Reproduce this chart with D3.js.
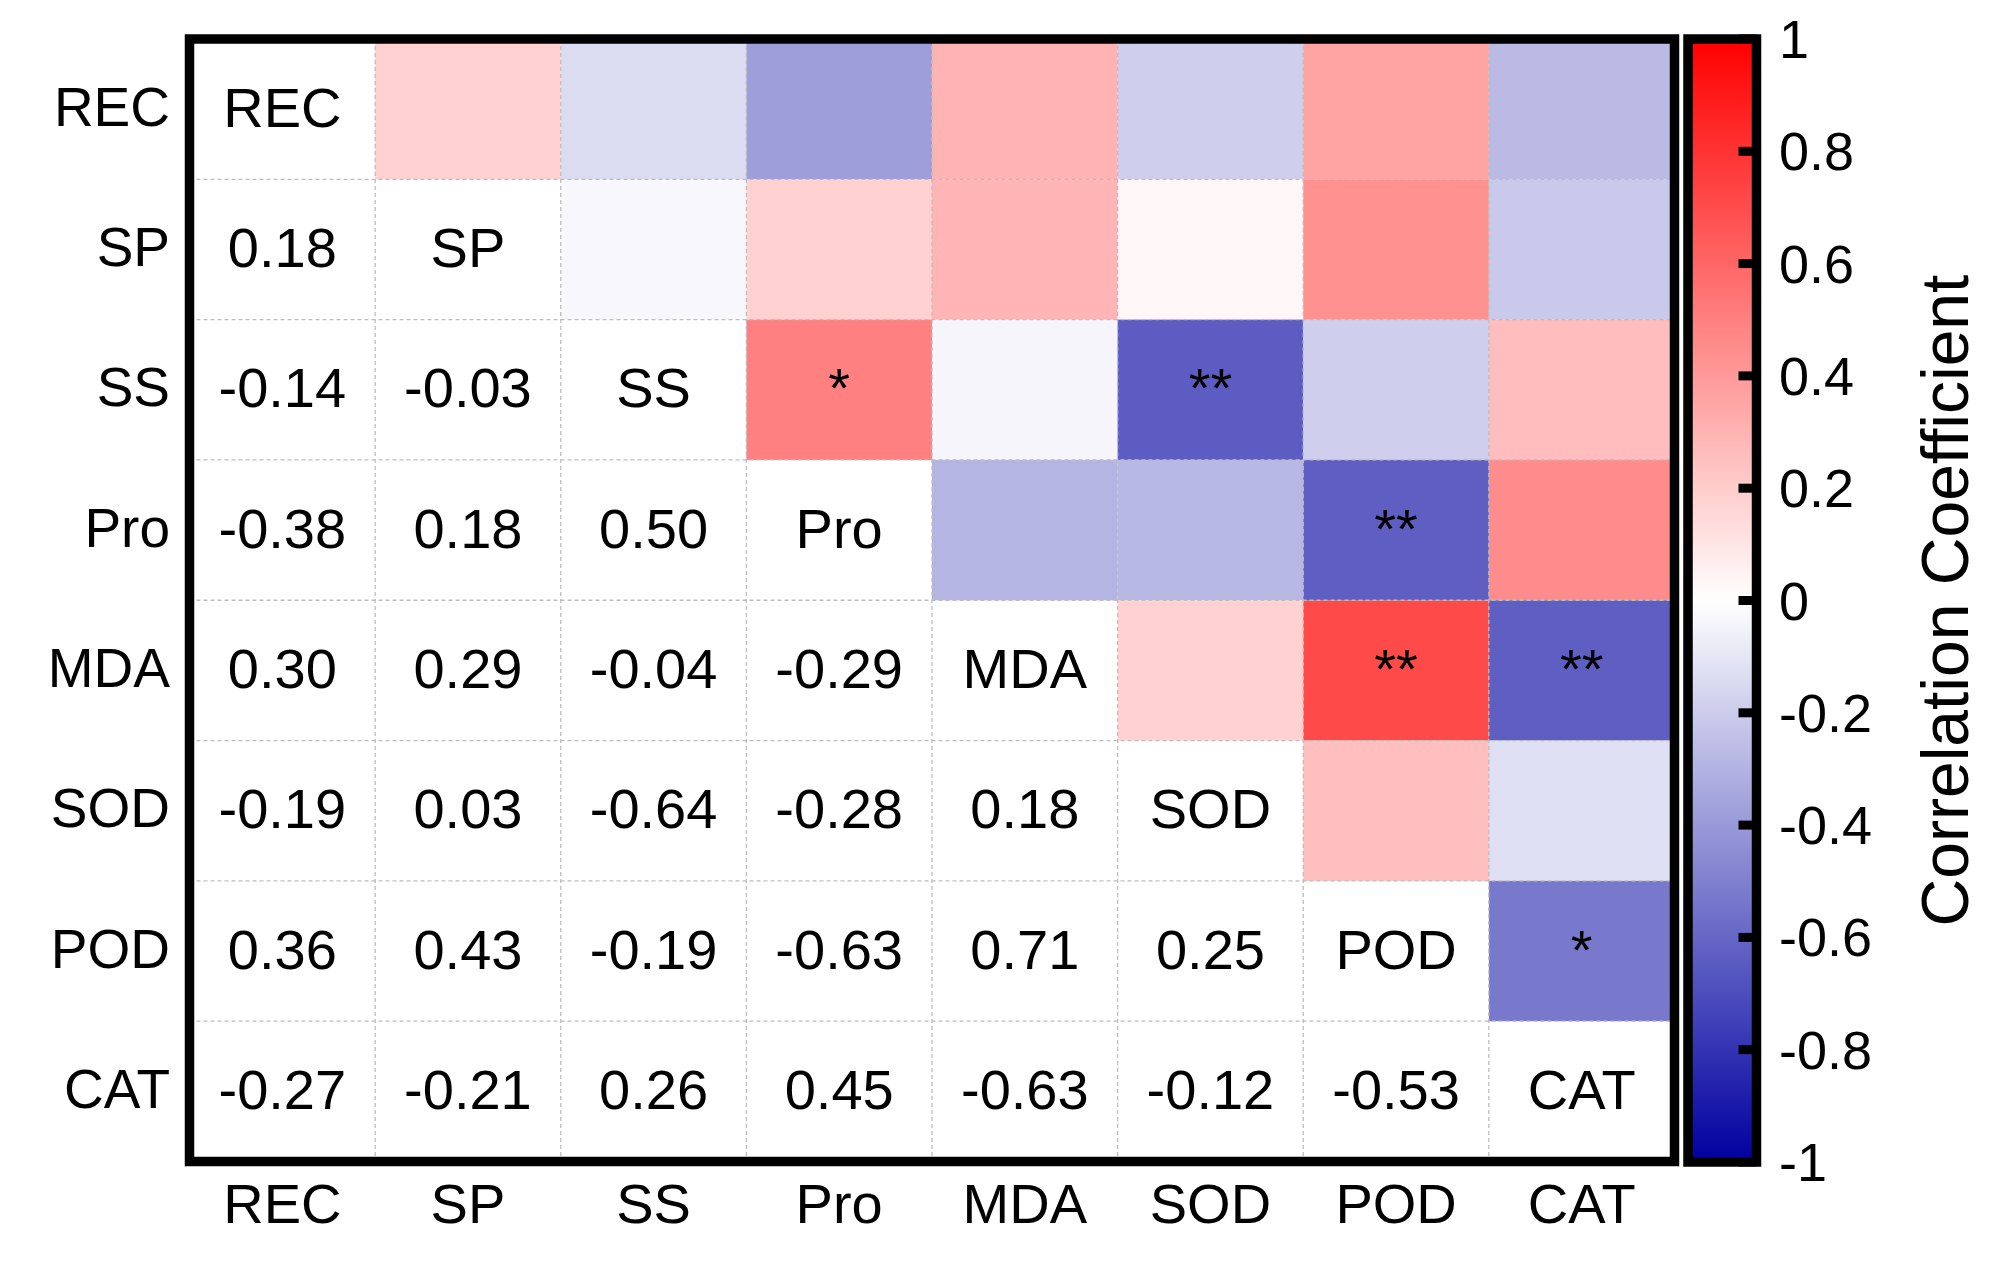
<!DOCTYPE html>
<html>
<head>
<meta charset="utf-8">
<script src="https://cdn.jsdelivr.net/npm/d3@7"></script>
<style>
  body { margin: 0; background: #fff; }
  svg text { font-family: "Liberation Sans", Arial, sans-serif; fill: #000; }
</style>
</head>
<body>
<div id="chart"></div>
<script>
// variables, in row / column order
var vars = ["REC", "SP", "SS", "Pro", "MDA", "SOD", "POD", "CAT"];

// lower triangle of the correlation matrix, one array per row
var rowREC = [];
var rowSP  = [0.18];
var rowSS  = [-0.14, -0.03];
var rowPro = [-0.38, 0.18, 0.50];
var rowMDA = [0.30, 0.29, -0.04, -0.29];
var rowSOD = [-0.19, 0.03, -0.64, -0.28, 0.18];
var rowPOD = [0.36, 0.43, -0.19, -0.63, 0.71, 0.25];
var rowCAT = [-0.27, -0.21, 0.26, 0.45, -0.63, -0.12, -0.53];

// significance marks, same layout as the lower triangle
var sigREC = [];
var sigSP  = [""];
var sigSS  = ["", ""];
var sigPro = ["", "", "*"];
var sigMDA = ["", "", "", ""];
var sigSOD = ["", "", "**", "", ""];
var sigPOD = ["", "", "", "**", "**", ""];
var sigCAT = ["", "", "", "", "**", "", "*"];

// colour bar ticks
var barTicks = [1, 0.8, 0.6, 0.4, 0.2, 0, -0.2, -0.4, -0.6, -0.8, -1];
var barTitle = "Correlation Coefficient";

var rows = [rowREC, rowSP, rowSS, rowPro, rowMDA, rowSOD, rowPOD, rowCAT];
var sigs = [sigREC, sigSP, sigSS, sigPro, sigMDA, sigSOD, sigPOD, sigCAT];

var width = 2000, height = 1265;
var fs = 56;

var svg = d3.select("#chart").append("svg")
    .attr("width", width)
    .attr("height", height);

var x = d3.scaleBand().domain(vars).range([189.5, 1674.5]);
var y = d3.scaleBand().domain(vars).range([39, 1161.5]);

var color = d3.scaleLinear()
    .domain([-1, 0, 1])
    .range(["#0000a0", "#ffffff", "#ff0000"]);

// build cell list from the lower triangle
var cells = [];
rows.forEach(function(r, i) {
  r.forEach(function(v, j) {
    cells.push({row: vars[i], col: vars[j], v: v, sig: sigs[i][j]});
  });
});

// upper triangle: coloured tiles (mirror of lower)
svg.selectAll(".tile")
    .data(cells)
  .enter().append("rect")
    .attr("class", "tile")
    .attr("x", function(d) { return x(d.row); })
    .attr("y", function(d) { return y(d.col); })
    .attr("width", x.bandwidth())
    .attr("height", y.bandwidth())
    .attr("fill", function(d) { return color(d.v); });

// dashed grid
var grid = svg.append("g")
    .attr("stroke", "#bdbdbd")
    .attr("stroke-width", 1.3)
    .attr("stroke-dasharray", "4,3");

grid.selectAll(".vg")
    .data(vars.slice(1))
  .enter().append("line")
    .attr("x1", function(d) { return x(d); })
    .attr("x2", function(d) { return x(d); })
    .attr("y1", y.range()[0])
    .attr("y2", y.range()[1]);

grid.selectAll(".hg")
    .data(vars.slice(1))
  .enter().append("line")
    .attr("y1", function(d) { return y(d); })
    .attr("y2", function(d) { return y(d); })
    .attr("x1", x.range()[0])
    .attr("x2", x.range()[1]);

var dy = 17.5;

// lower triangle numbers
svg.selectAll(".num")
    .data(cells)
  .enter().append("text")
    .attr("class", "num")
    .attr("x", function(d) { return x(d.col) + x.bandwidth() / 2; })
    .attr("y", function(d) { return y(d.row) + y.bandwidth() / 2 + dy; })
    .attr("text-anchor", "middle")
    .style("font-size", fs + "px")
    .text(function(d) { return d3.format(".2f")(d.v).replace("\u2212", "-"); });

// stars on the upper triangle
svg.selectAll(".star")
    .data(cells.filter(function(d) { return d.sig !== ""; }))
  .enter().append("text")
    .attr("class", "star")
    .attr("x", function(d) { return x(d.row) + x.bandwidth() / 2; })
    .attr("y", function(d) { return y(d.col) + y.bandwidth() / 2 + dy; })
    .attr("text-anchor", "middle")
    .style("font-size", fs + "px")
    .text(function(d) { return d.sig; });

// diagonal names
svg.selectAll(".diag")
    .data(vars)
  .enter().append("text")
    .attr("class", "diag")
    .attr("x", function(d) { return x(d) + x.bandwidth() / 2; })
    .attr("y", function(d) { return y(d) + y.bandwidth() / 2 + dy; })
    .attr("text-anchor", "middle")
    .style("font-size", fs + "px")
    .text(function(d) { return d; });

// frame
svg.append("rect")
    .attr("x", x.range()[0])
    .attr("y", y.range()[0])
    .attr("width", x.range()[1] - x.range()[0])
    .attr("height", y.range()[1] - y.range()[0])
    .attr("fill", "none")
    .attr("stroke", "#000")
    .attr("stroke-width", 9.5);

// axis labels
svg.selectAll(".ylab")
    .data(vars)
  .enter().append("text")
    .attr("x", 170)
    .attr("y", function(d) { return y(d) + y.bandwidth() / 2 + dy - 1; })
    .attr("text-anchor", "end")
    .style("font-size", "55px")
    .text(function(d) { return d; });

svg.selectAll(".xlab")
    .data(vars)
  .enter().append("text")
    .attr("x", function(d) { return x(d) + x.bandwidth() / 2; })
    .attr("y", 1223)
    .attr("text-anchor", "middle")
    .style("font-size", fs + "px")
    .text(function(d) { return d; });

// colour bar
var barY = d3.scaleLinear().domain([-1, 1]).range([1162, 39]);
var barX0 = 1688, barX1 = 1756.5;

var defs = svg.append("defs");
var grad = defs.append("linearGradient")
    .attr("id", "cbar")
    .attr("x1", 0).attr("x2", 0)
    .attr("y1", 1).attr("y2", 0);
d3.range(-1, 1.0001, 0.1).forEach(function(v) {
  grad.append("stop")
      .attr("offset", ((v + 1) / 2 * 100) + "%")
      .attr("stop-color", color(v));
});

svg.append("rect")
    .attr("x", barX0)
    .attr("y", barY(1))
    .attr("width", barX1 - barX0)
    .attr("height", barY(-1) - barY(1))
    .attr("fill", "url(#cbar)")
    .attr("stroke", "#000")
    .attr("stroke-width", 9.5);

svg.selectAll(".btick")
    .data(barTicks)
  .enter().append("line")
    .attr("x1", barX1 - 18)
    .attr("x2", barX1)
    .attr("y1", function(d) { return barY(d); })
    .attr("y2", function(d) { return barY(d); })
    .attr("stroke", "#000")
    .attr("stroke-width", 9);

svg.selectAll(".blab")
    .data(barTicks)
  .enter().append("text")
    .attr("x", 1779)
    .attr("y", function(d) { return barY(d) + 19; })
    .style("font-size", "54px")
    .text(function(d) { return String(d).replace("\u2212", "-"); });

svg.append("text")
    .attr("transform", "translate(1968," + barY(0) + ") rotate(-90)")
    .attr("text-anchor", "middle")
    .style("font-size", "66px")
    .text(barTitle);
</script>
</body>
</html>
